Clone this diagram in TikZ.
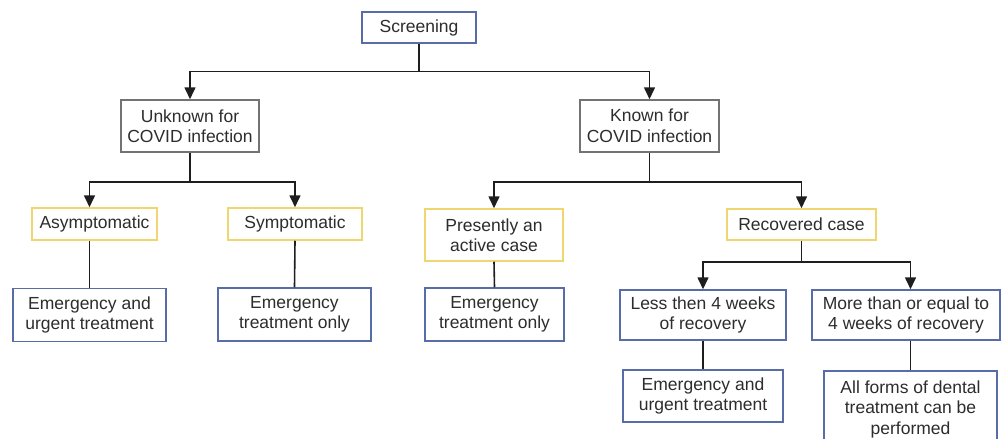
\documentclass[tikz,border=0pt]{standalone}
\usepackage{fontspec}
\setmainfont{Liberation Sans}
\usetikzlibrary{arrows.meta}
\definecolor{bblue}{RGB}{88,108,168}
\definecolor{bgray}{RGB}{115,115,115}
\definecolor{byell}{RGB}{238,214,112}
\definecolor{txt}{RGB}{45,45,45}
\definecolor{ln}{RGB}{30,30,30}
\tikzset{
  box/.style={draw, line width=1.5pt, fill=white, text=txt, align=center, inner sep=0pt,
    font=\fontsize{17.5}{20.5}\selectfont},
  bluebox/.style={box, draw=bblue},
  graybox/.style={box, draw=bgray},
  yelbox/.style={box, draw=byell},
  conn/.style={draw=ln, line width=1.6pt},
  arr/.style={conn, -{Triangle[width=11pt,length=12pt]}}
}
\begin{document}
\begin{tikzpicture}[x=1pt,y=-1pt]
\useasboundingbox (0,0) rectangle (1002,439);
\clip (0,0) rectangle (1002,439);
% nodes
\node[bluebox, minimum width=114pt, minimum height=31pt] (screen) at (419,27.5) {Screening};
\node[graybox, minimum width=138pt, minimum height=52pt] (unknown) at (190,126) {Unknown for\\COVID infection};
\node[graybox, minimum width=139pt, minimum height=52pt] (known) at (649.5,126) {Known for\\COVID infection};
\node[yelbox, minimum width=125pt, minimum height=32pt] (asym) at (94.5,224) {Asymptomatic};
\node[yelbox, minimum width=134pt, minimum height=32pt] (symp) at (295,224) {Symptomatic};
\node[yelbox, minimum width=138pt, minimum height=52pt] (active) at (494,235) {Presently an\\active case};
\node[yelbox, minimum width=149pt, minimum height=31pt] (recov) at (801.5,224.5) {Recovered case};
\node[bluebox, minimum width=153pt, minimum height=53pt] (e1) at (89.5,315) {Emergency and\\urgent treatment};
\node[bluebox, minimum width=153pt, minimum height=53pt] (e2) at (294.5,314.5) {Emergency\\treatment only};
\node[bluebox, minimum width=139pt, minimum height=53pt] (e3) at (494.5,314.5) {Emergency\\treatment only};
\node[bluebox, minimum width=166pt, minimum height=50pt] (less) at (703,315) {Less then 4 weeks\\of recovery};
\node[bluebox, minimum width=188pt, minimum height=50pt] (more) at (906,315) {More than or equal to\\4 weeks of recovery};
\node[bluebox, minimum width=160pt, minimum height=52pt] (e4) at (703,396) {Emergency and\\urgent treatment};
\node[bluebox, minimum width=173pt, minimum height=77pt, anchor=north] (e5) at (910.5,370) {All forms of dental\\treatment can be\\performed};
% bus coordinates
\coordinate (b0) at (419,71.5);
\coordinate (b1) at (190,182);
\coordinate (b2) at (649.5,182);
\coordinate (b3) at (801.5,262);
% connectors
\draw[conn] (screen.south) -- (b0);
\draw[arr] (b0) -| (unknown.north);
\draw[arr] (b0) -| (known.north);
\draw[conn] (unknown.south) -- (b1);
\draw[arr] (b1) -| (asym.north -| e1.north);
\draw[arr] (b1) -| (symp.north);
\draw[conn] (known.south) -- (b2);
\draw[arr] (b2) -| (active.north);
\draw[arr] (b2) -| (recov.north);
\draw[conn] (recov.south) -- (b3);
\draw[arr] (b3) -| (less.north);
\draw[arr] (b3) -| (more.north -| e5.north);
\draw[conn] (asym.south -| e1.north) -- (e1.north);
\draw[conn] (symp.south) -- (e2.north);
\draw[conn] (active.south) -- (e3.north);
\draw[conn] (less.south) -- (e4.north);
\draw[conn] (more.south -| e5.north) -- (e5.north);
\end{tikzpicture}
\end{document}
